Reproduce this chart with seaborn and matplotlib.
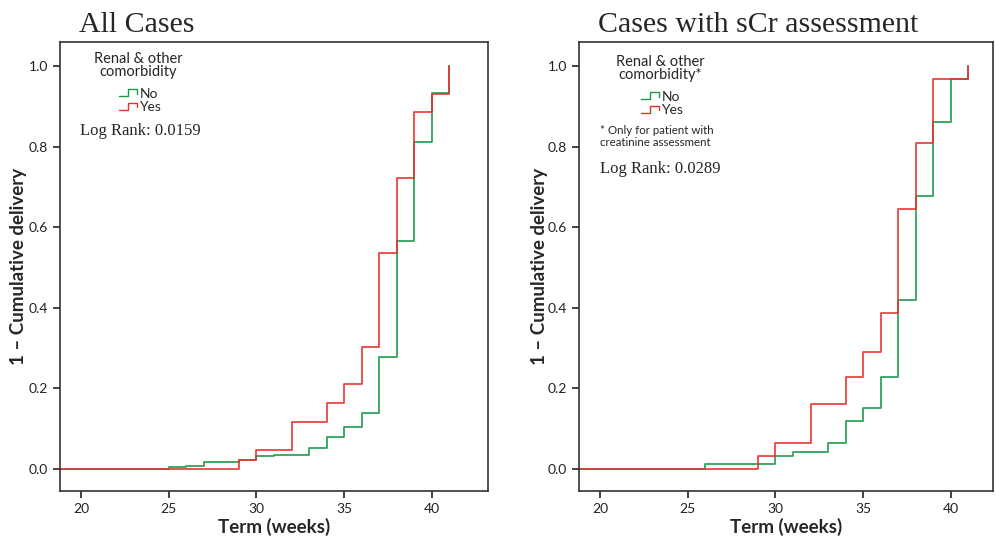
import numpy as np
import pandas as pd
import matplotlib
matplotlib.use("Agg")
import matplotlib.pyplot as plt
import seaborn as sns
from matplotlib.legend_handler import HandlerBase
from matplotlib.lines import Line2D

# --- data (1 - cumulative delivery by week) ---
weeks_all = [18, 25, 26, 27, 29, 30, 31, 32, 33, 34, 35, 36, 37, 38, 39, 40, 41]
no_all = [0, 0.005, 0.008, 0.016, 0.023, 0.031, 0.035, 0.035, 0.052, 0.079,
          0.104, 0.139, 0.278, 0.567, 0.811, 0.934, 1.0]
yes_all = [0, 0, 0, 0, 0.023, 0.047, 0.047, 0.117, 0.117, 0.164,
           0.211, 0.303, 0.537, 0.723, 0.885, 0.931, 1.0]

weeks_scr = [18, 26, 29, 30, 31, 32, 33, 34, 35, 36, 37, 38, 39, 40, 41]
no_scr = [0, 0.012, 0.012, 0.033, 0.043, 0.043, 0.065, 0.118, 0.152, 0.227,
          0.42, 0.678, 0.862, 0.968, 1.0]
yes_scr = [0, 0, 0.033, 0.064, 0.064, 0.162, 0.162, 0.227, 0.29, 0.387,
           0.645, 0.808, 0.968, 0.968, 1.0]

groups = ["No", "Yes"]
x_ticks = [20, 25, 30, 35, 40]
y_ticks = [0.0, 0.2, 0.4, 0.6, 0.8, 1.0]
titles = ["All Cases", "Cases with sCr assessment"]
log_ranks = ["Log Rank: 0.0159", "Log Rank: 0.0289"]
legend_titles = ["Renal & other\ncomorbidity", "Renal & other\ncomorbidity*"]

palette = {"No": "#1a9a48", "Yes": "#e8302e"}


def long_frame(weeks, no, yes):
    return pd.concat([
        pd.DataFrame({"week": weeks, "surv": no, "group": "No"}),
        pd.DataFrame({"week": weeks, "surv": yes, "group": "Yes"}),
    ], ignore_index=True)


df_all = long_frame(weeks_all, no_all, yes_all)
df_scr = long_frame(weeks_scr, no_scr, yes_scr)


class StepHandler(HandlerBase):
    # little step glyph like the SPSS survival legend
    def create_artists(self, legend, orig_handle, xdescent, ydescent,
                       width, height, fontsize, trans):
        x0, w, h = -xdescent, width, height
        xs = [x0, x0 + 0.5 * w, x0 + 0.5 * w, x0 + w, x0 + w]
        ys = [0.15 * h, 0.15 * h, 0.85 * h, 0.85 * h, 0.4 * h]
        ln = Line2D(xs, ys, color=orig_handle.get_color(), lw=1.0)
        ln.set_transform(trans)
        return [ln]


sns.set_style("ticks")
plt.rcParams["font.family"] = ["Lato", "DejaVu Sans"]
serif = ["Liberation Serif", "DejaVu Serif"]

fig = plt.figure(figsize=(9.96, 5.43), dpi=100, facecolor="white")
ax1 = fig.add_axes([60 / 996, 1 - 491 / 543, 428 / 996, 449 / 543])
ax2 = fig.add_axes([579 / 996, 1 - 491 / 543, 414 / 996, 449 / 543])

legend_x = [138, 660]
legend_dy = [0, 3]
ylab_x = [-0.077, -0.075]

for i, (ax, df) in enumerate([(ax1, df_all), (ax2, df_scr)]):
    sns.lineplot(data=df, x="week", y="surv", hue="group", palette=palette,
                 drawstyle="steps-post", estimator=None, sort=False,
                 lw=1.3, alpha=0.9, legend=False, ax=ax)
    ax.set_xlim(18.8, 43.2 if i == 0 else 42.4)
    ax.set_ylim(-0.055, 1.06)
    ax.set_xticks(x_ticks)
    ax.set_yticks(y_ticks)
    ax.set_yticklabels([f"{v:.1f}" for v in y_ticks])
    ax.tick_params(axis="both", labelsize=10, length=5, width=1.2,
                   colors="#222222")
    for sp in ax.spines.values():
        sp.set_visible(True)
        sp.set_color("#333333")
        sp.set_linewidth(1.2)
    ax.set_xlabel("Term (weeks)", fontsize=13.5, fontweight="bold")
    ax.set_ylabel("1 \u2013 Cumulative delivery", fontsize=13.5,
                  fontweight="bold")
    ax.xaxis.set_label_coords(0.5, -0.06)
    ax.yaxis.set_label_coords(ylab_x[i], 0.5)

    dy = legend_dy[i]
    handles = [Line2D([], [], color=palette[g]) for g in groups]
    ax.legend(handles, groups, frameon=False, loc="upper center",
              bbox_to_anchor=((legend_x[i] + 2) / 996, 1 - (78 + dy) / 543),
              bbox_transform=fig.transFigure,
              handler_map={Line2D: StepHandler()},
              fontsize=10, handlelength=1.3, handletextpad=0.2,
              labelspacing=0.1, borderpad=0.2)
    fig.text(legend_x[i] / 996, 1 - (52 + dy) / 543, legend_titles[i],
             fontsize=10.5, ha="center", va="top", linespacing=0.95)

fig.text(79 / 996, 1 - 32 / 543, titles[0], fontsize=21.5, family=serif,
         ha="left", va="baseline")
fig.text(598 / 996, 1 - 32 / 543, titles[1], fontsize=21.5, family=serif,
         ha="left", va="baseline")

fig.text(80 / 996, 1 - 135 / 543, log_ranks[0], fontsize=12, family=serif,
         ha="left", va="baseline")
fig.text(600 / 996, 1 - 173 / 543, log_ranks[1], fontsize=12, family=serif,
         ha="left", va="baseline")
fig.text(600 / 996, 1 - 125 / 543,
         "* Only for patient with\ncreatinine assessment", fontsize=8.3,
         ha="left", va="top", linespacing=1.1)

fig.savefig("out.png", dpi=100, facecolor="white")
